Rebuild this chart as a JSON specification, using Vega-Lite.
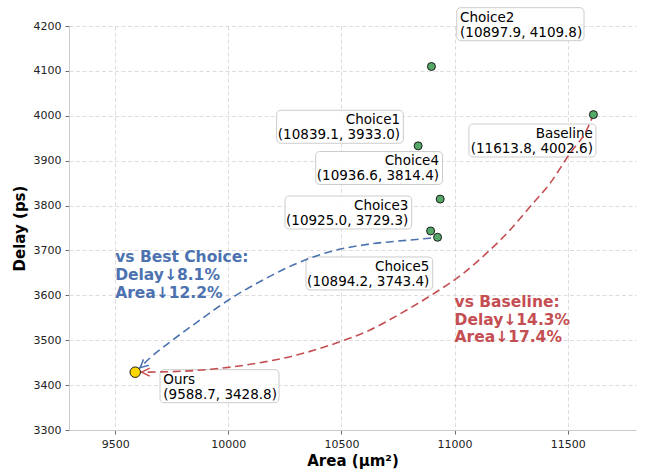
{
  "$schema": "https://vega.github.io/schema/vega-lite/v6.json",
  "width": 567,
  "height": 404,
  "autosize": {"type": "none"},
  "padding": {"left": 69, "top": 26, "right": 10, "bottom": 40},
  "background": "white",
  "config": {
    "view": {"stroke": null},
    "font": "DejaVu Sans",
    "axis": {
      "labelFont": "DejaVu Sans",
      "labelFontSize": 11,
      "labelColor": "#222222",
      "titleFont": "DejaVu Sans",
      "titleFontSize": 15,
      "titleFontWeight": "bold",
      "titleColor": "#000000",
      "domainColor": "#cccccc",
      "domainWidth": 1,
      "tickColor": "#444444",
      "tickWidth": 0.8,
      "tickSize": 4,
      "gridColor": "#cccccc",
      "gridOpacity": 0.85,
      "gridDash": [4, 2.5],
      "gridWidth": 0.8,
      "labelFlush": false
    }
  },
  "datasets": {
    "points": [
      {"name": "Baseline", "area": 11613.8, "delay": 4002.6, "label": "Baseline\n(11613.8, 4002.6)"},
      {"name": "Choice1", "area": 10839.1, "delay": 3933.0, "label": "Choice1\n(10839.1, 3933.0)"},
      {"name": "Choice2", "area": 10897.9, "delay": 4109.8, "label": "Choice2\n(10897.9, 4109.8)"},
      {"name": "Choice3", "area": 10925.0, "delay": 3729.3, "label": "Choice3\n(10925.0, 3729.3)"},
      {"name": "Choice4", "area": 10936.6, "delay": 3814.4, "label": "Choice4\n(10936.6, 3814.4)"},
      {"name": "Choice5", "area": 10894.2, "delay": 3743.4, "label": "Choice5\n(10894.2, 3743.4)"},
      {"name": "Ours", "area": 9588.7, "delay": 3428.8, "label": "Ours\n(9588.7, 3428.8)"}
    ],
    "notes": [
      {"kind": "best", "area": 9500, "delay": 3700, "note": "vs Best Choice:\nDelay↓8.1%\nArea↓12.2%"},
      {"kind": "base", "area": 11000, "delay": 3600, "note": "vs Baseline:\nDelay↓14.3%\nArea↓17.4%"}
    ],
    "arrows": [
      {"arrow": "best", "area": 10900.4, "delay": 3727.7},
      {"arrow": "best", "area": 10803.1, "delay": 3723.3},
      {"arrow": "best", "area": 10595.4, "delay": 3712.1},
      {"arrow": "best", "area": 10449.6, "delay": 3697.2},
      {"arrow": "best", "area": 10303.7, "delay": 3671.4},
      {"arrow": "best", "area": 10153.4, "delay": 3634.2},
      {"arrow": "best", "area": 10007.6, "delay": 3591.8},
      {"arrow": "best", "area": 9875.0, "delay": 3545.0},
      {"arrow": "best", "area": 9742.4, "delay": 3496.0},
      {"arrow": "best", "area": 9654.0, "delay": 3460.4},
      {"arrow": "best", "area": 9588.7, "delay": 3428.8},
      {"arrow": "base", "area": 11613.8, "delay": 4002.6},
      {"arrow": "base", "area": 11584.1, "delay": 3968.3},
      {"arrow": "base", "area": 11510.3, "delay": 3916.4},
      {"arrow": "base", "area": 11421.9, "delay": 3849.6},
      {"arrow": "base", "area": 11333.5, "delay": 3797.5},
      {"arrow": "base", "area": 11245.1, "delay": 3745.5},
      {"arrow": "base", "area": 11156.7, "delay": 3701.0},
      {"arrow": "base", "area": 11038.7, "delay": 3649.0},
      {"arrow": "base", "area": 10921.1, "delay": 3608.0},
      {"arrow": "base", "area": 10788.6, "delay": 3567.3},
      {"arrow": "base", "area": 10626.3, "delay": 3522.8},
      {"arrow": "base", "area": 10493.7, "delay": 3496.7},
      {"arrow": "base", "area": 10302.4, "delay": 3467.0},
      {"arrow": "base", "area": 10125.6, "delay": 3448.6},
      {"arrow": "base", "area": 9933.8, "delay": 3435.9},
      {"arrow": "base", "area": 9742.4, "delay": 3429.9},
      {"arrow": "base", "area": 9588.7, "delay": 3428.8}
    ]
  },
  "data": {"name": "points"},
  "encoding": {
    "x": {
      "field": "area",
      "type": "quantitative",
      "scale": {"domain": [9296, 11802], "nice": false, "zero": false},
      "axis": {"title": "Area (µm²)", "values": [9500, 10000, 10500, 11000, 11500], "labelPadding": 4, "titlePadding": 4, "format": "d"}
    },
    "y": {
      "field": "delay",
      "type": "quantitative",
      "scale": {"domain": [3300, 4200], "nice": false, "zero": false},
      "axis": {"title": "Delay (ps)", "values": [3300, 3400, 3500, 3600, 3700, 3800, 3900, 4000, 4100, 4200], "labelPadding": 4, "titlePadding": 6, "format": "d"}
    }
  },
  "layer": [
    {"transform": [{"filter": "datum.name === 'Choice2'"}], "mark": {"type": "rect", "fill": "white", "fillOpacity": 0.9, "stroke": "#cccccc", "strokeWidth": 1, "cornerRadius": 4, "xOffset": 25.3, "x2Offset": 152.6, "yOffset": -58.8, "y2Offset": -25.8}, "encoding": {"x2": {"field": "area"}, "y2": {"field": "delay"}}},
    {"transform": [{"filter": "datum.name === 'Choice2'"}], "mark": {"type": "text", "align": "left", "baseline": "top", "dx": 28.6, "dy": -55.8, "fontSize": 13.5, "lineHeight": 15, "lineBreak": "\n", "color": "black"}, "encoding": {"text": {"field": "label"}}},
    {"transform": [{"filter": "datum.name === 'Choice1'"}], "mark": {"type": "rect", "fill": "white", "fillOpacity": 0.9, "stroke": "#cccccc", "strokeWidth": 1, "cornerRadius": 4, "xOffset": -141.5, "x2Offset": -14.8, "yOffset": -35.6, "y2Offset": -2.6}, "encoding": {"x2": {"field": "area"}, "y2": {"field": "delay"}}},
    {"transform": [{"filter": "datum.name === 'Choice1'"}], "mark": {"type": "text", "align": "right", "baseline": "top", "dx": -18.1, "dy": -32.6, "fontSize": 13.5, "lineHeight": 15, "lineBreak": "\n", "color": "black"}, "encoding": {"text": {"field": "label"}}},
    {"transform": [{"filter": "datum.name === 'Baseline'"}], "mark": {"type": "rect", "fill": "white", "fillOpacity": 0.9, "stroke": "#cccccc", "strokeWidth": 1, "cornerRadius": 4, "xOffset": -124.5, "x2Offset": 2.5, "yOffset": 9.4, "y2Offset": 42.4}, "encoding": {"x2": {"field": "area"}, "y2": {"field": "delay"}}},
    {"transform": [{"filter": "datum.name === 'Baseline'"}], "mark": {"type": "text", "align": "right", "baseline": "top", "dx": -0.5, "dy": 12.4, "fontSize": 13.5, "lineHeight": 15, "lineBreak": "\n", "color": "black"}, "encoding": {"text": {"field": "label"}}},
    {"transform": [{"filter": "datum.name === 'Choice4'"}], "mark": {"type": "rect", "fill": "white", "fillOpacity": 0.9, "stroke": "#cccccc", "strokeWidth": 1, "cornerRadius": 4, "xOffset": -124.5, "x2Offset": 2.3, "yOffset": -47.6, "y2Offset": -14.6}, "encoding": {"x2": {"field": "area"}, "y2": {"field": "delay"}}},
    {"transform": [{"filter": "datum.name === 'Choice4'"}], "mark": {"type": "text", "align": "right", "baseline": "top", "dx": -1.2, "dy": -44.6, "fontSize": 13.5, "lineHeight": 15, "lineBreak": "\n", "color": "black"}, "encoding": {"text": {"field": "label"}}},
    {"transform": [{"filter": "datum.name === 'Choice3'"}], "mark": {"type": "rect", "fill": "white", "fillOpacity": 0.9, "stroke": "#cccccc", "strokeWidth": 1, "cornerRadius": 4, "xOffset": -152.6, "x2Offset": -25.9, "yOffset": -41.3, "y2Offset": -8.3}, "encoding": {"x2": {"field": "area"}, "y2": {"field": "delay"}}},
    {"transform": [{"filter": "datum.name === 'Choice3'"}], "mark": {"type": "text", "align": "right", "baseline": "top", "dx": -29.3, "dy": -38.3, "fontSize": 13.5, "lineHeight": 15, "lineBreak": "\n", "color": "black"}, "encoding": {"text": {"field": "label"}}},
    {"transform": [{"filter": "datum.name === 'Choice5'"}], "mark": {"type": "rect", "fill": "white", "fillOpacity": 0.9, "stroke": "#cccccc", "strokeWidth": 1, "cornerRadius": 4, "xOffset": -124.6, "x2Offset": 2.1, "yOffset": 26, "y2Offset": 59}, "encoding": {"x2": {"field": "area"}, "y2": {"field": "delay"}}},
    {"transform": [{"filter": "datum.name === 'Choice5'"}], "mark": {"type": "text", "align": "right", "baseline": "top", "dx": -1.3, "dy": 29, "fontSize": 13.5, "lineHeight": 15, "lineBreak": "\n", "color": "black"}, "encoding": {"text": {"field": "label"}}},
    {"transform": [{"filter": "datum.name === 'Ours'"}], "mark": {"type": "rect", "fill": "white", "fillOpacity": 0.9, "stroke": "#cccccc", "strokeWidth": 1, "cornerRadius": 4, "xOffset": 24.8, "x2Offset": 143.8, "yOffset": -2.5, "y2Offset": 30.5}, "encoding": {"x2": {"field": "area"}, "y2": {"field": "delay"}}},
    {"transform": [{"filter": "datum.name === 'Ours'"}], "mark": {"type": "text", "align": "left", "baseline": "top", "dx": 28.1, "dy": 0.5, "fontSize": 13.5, "lineHeight": 15, "lineBreak": "\n", "color": "black"}, "encoding": {"text": {"field": "label"}}},
    {"data": {"name": "arrows"}, "transform": [{"filter": "datum.arrow === 'best'"}], "mark": {"type": "line", "color": "#4c72b0", "strokeWidth": 1.6, "strokeDash": [8, 4.5], "interpolate": "monotone"}, "encoding": {"order": {"field": "area", "type": "quantitative"}}},
    {"data": {"name": "arrows"}, "transform": [{"filter": "datum.arrow === 'base'"}], "mark": {"type": "line", "color": "#c44e52", "strokeWidth": 1.6, "strokeDash": [8, 4.5], "interpolate": "monotone"}, "encoding": {"order": {"field": "area", "type": "quantitative"}}},
    {"transform": [{"filter": "datum.name === 'Ours'"}], "mark": {"type": "point", "shape": "M -1.6 -0.8 L 0 0 L -1.6 0.8", "filled": false, "stroke": "#4c72b0", "strokeWidth": 1.5, "size": 100, "opacity": 1, "angle": 138, "xOffset": 5, "yOffset": -4.5}},
    {"transform": [{"filter": "datum.name === 'Ours'"}], "mark": {"type": "point", "shape": "M -1.6 -0.8 L 0 0 L -1.6 0.8", "filled": false, "stroke": "#c44e52", "strokeWidth": 1.5, "size": 100, "opacity": 1, "angle": 180, "xOffset": 6.5, "yOffset": 0}},
    {"transform": [{"filter": "datum.name !== 'Ours'"}], "mark": {"type": "circle", "fill": "#55a868", "stroke": "#1a1a1a", "strokeWidth": 1, "size": 64, "opacity": 1}},
    {"transform": [{"filter": "datum.name === 'Ours'"}], "mark": {"type": "circle", "fill": "#ffd700", "stroke": "#1a1a1a", "strokeWidth": 1, "size": 110, "opacity": 1}},
    {"data": {"name": "notes"}, "transform": [{"filter": "datum.kind === 'best'"}], "mark": {"type": "text", "align": "left", "baseline": "top", "fontSize": 15.5, "fontWeight": "bold", "lineHeight": 18, "lineBreak": "\n", "color": "#4c72b0"}, "encoding": {"text": {"field": "note"}}},
    {"data": {"name": "notes"}, "transform": [{"filter": "datum.kind === 'base'"}], "mark": {"type": "text", "align": "left", "baseline": "top", "fontSize": 15.5, "fontWeight": "bold", "lineHeight": 17.5, "lineBreak": "\n", "color": "#c44e52"}, "encoding": {"text": {"field": "note"}}}
  ]
}
